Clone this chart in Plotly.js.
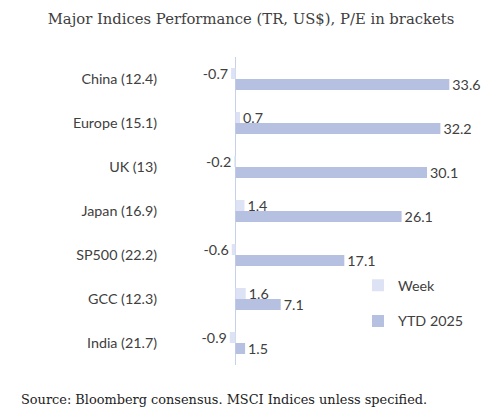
<!DOCTYPE html>
<html>
<head>
<meta charset="utf-8">
<script src="https://cdn.plot.ly/plotly-3.0.1.min.js"></script>
<style>
  html, body { margin: 0; padding: 0; background: #fff; }
  #plot { width: 502px; height: 419px; }
</style>
</head>
<body>
<div id="plot"></div>
<script>
// index names with P/E in brackets
const categories = ['China (12.4)', 'Europe (15.1)', 'UK (13)', 'Japan (16.9)', 'SP500 (22.2)', 'GCC (12.3)', 'India (21.7)'];
const weekValues = [-0.7, 0.7, -0.2, 1.4, -0.6, 1.6, -0.9];
const ytdValues = [33.6, 32.2, 30.1, 26.1, 17.1, 7.1, 1.5];

// fresh object each time, plotly likes to mutate them
function labelFont() {
  return { family: 'Lato, "Noto Sans", sans-serif', size: 14.3, color: '#404040' };
}

const week = {
  type: 'bar', orientation: 'h', name: 'Week',
  y: categories, x: weekValues,
  marker: { color: '#dde3f4' },
  text: weekValues.map(v => v.toFixed(1)),
  textposition: 'outside', cliponaxis: false, constraintext: 'none',
  textfont: labelFont(),
  legendgroup: 'a',
  hoverinfo: 'x+y'
};

const ytd = {
  type: 'bar', orientation: 'h', name: 'YTD 2025',
  y: categories, x: ytdValues,
  marker: { color: '#b6c0e0' },
  text: ytdValues.map(v => v.toFixed(1)),
  textposition: 'outside', cliponaxis: false, constraintext: 'none',
  textfont: labelFont(),
  legendgroup: 'b',
  hoverinfo: 'x+y'
};

const layout = {
  width: 502, height: 419,
  margin: { l: 226, r: 12, t: 57, b: 54 },
  paper_bgcolor: '#fff', plot_bgcolor: '#fff',
  barmode: 'group', bargap: 0.5, bargroupgap: 0,
  title: {
    text: 'Major Indices Performance (TR, US$), P/E in brackets',
    font: { family: '"DejaVu Serif", serif', size: 14.8, color: '#404040' },
    x: 0.5, xanchor: 'center', y: 0.955, yanchor: 'middle'
  },
  xaxis: {
    range: [-1.5, 40],
    showgrid: false, showticklabels: false, ticks: '',
    zeroline: true, zerolinecolor: '#c5d3ea', zerolinewidth: 1.5,
    showline: false, fixedrange: true
  },
  yaxis: {
    autorange: 'reversed',
    showgrid: false, showline: false, ticks: '',
    ticklabelstandoff: 68,
    tickfont: labelFont(), fixedrange: true
  },
  showlegend: true,
  legend: {
    x: 0.5, y: 0.31, xanchor: 'left', yanchor: 'top',
    font: labelFont(), bgcolor: 'rgba(0,0,0,0)',
    traceorder: 'grouped', tracegroupgap: 14,
    itemwidth: 30
  },
  annotations: [{
    text: 'Source: Bloomberg consensus. MSCI Indices unless specified.',
    xref: 'paper', yref: 'paper', x: -0.785, y: -0.08,
    xanchor: 'left', yanchor: 'top', showarrow: false,
    font: { family: '"DejaVu Serif", serif', size: 12.9, color: '#222' }
  }]
};

Plotly.newPlot('plot', [week, ytd], layout, { displayModeBar: false, staticPlot: true });
</script>
</body>
</html>
